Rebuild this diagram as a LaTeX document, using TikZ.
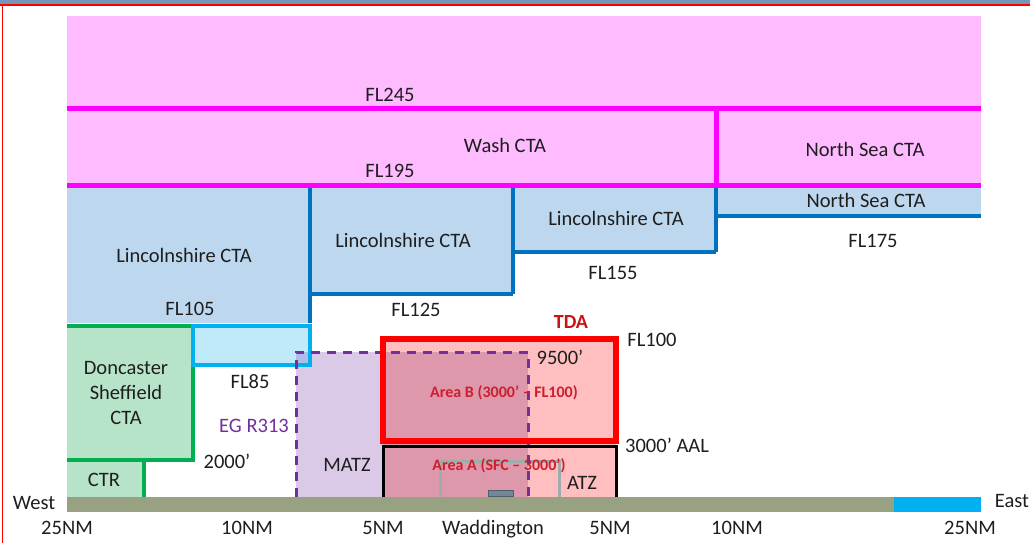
\documentclass[tikz,border=0pt]{standalone}
\usepackage{fontspec}
\setmainfont{Carlito}
\definecolor{pinkfill}{RGB}{255,187,255}
\definecolor{magline}{RGB}{255,0,255}
\definecolor{bluefill}{RGB}{189,215,238}
\definecolor{bluedark}{RGB}{0,112,192}
\definecolor{greenfill}{RGB}{183,228,200}
\definecolor{greenline}{RGB}{0,176,80}
\definecolor{cyanline}{RGB}{0,176,240}
\definecolor{cyanfill}{RGB}{192,234,250}
\definecolor{matzfill}{RGB}{218,202,232}
\definecolor{tdafill}{RGB}{255,190,192}
\definecolor{overlapfill}{RGB}{222,152,172}
\definecolor{cmoverlap}{RGB}{172,192,230}
\definecolor{groundcol}{RGB}{152,162,130}
\definecolor{purplecol}{RGB}{112,48,160}
\definecolor{txt}{RGB}{30,30,30}
\definecolor{tdared}{RGB}{200,20,20}
\definecolor{areared}{RGB}{205,30,45}
\definecolor{framebar}{RGB}{115,150,185}
\definecolor{atzgrey}{RGB}{160,172,172}
\definecolor{runwaycol}{RGB}{115,135,155}
\begin{document}
\begin{tikzpicture}[x=1pt,y=-1pt,
  lbl/.style={font=\fontsize{20.5}{24}\selectfont, text=txt, inner sep=0pt, text height=13.2pt, text depth=0pt},
  arealbl/.style={font=\bfseries\fontsize{16}{19}\selectfont, text=areared, inner sep=0pt, text height=10.3pt, text depth=0pt},
  magline/.style={draw=magline, line width=5pt},
  blueline/.style={draw=bluedark, line width=4pt},
  greenbd/.style={draw=greenline, line width=4.5pt},
  matzline/.style={draw=purplecol, line width=3pt, dash pattern=on 9pt off 7pt},
]
\useasboundingbox (0,0) rectangle (1030,543);
% frame
\fill[framebar] (0,0) rectangle (1030,4);
\draw[red, line width=1.5pt] (0,5) -- (1030,5);
\draw[red, line width=1.5pt] (2.5,5) -- (2.5,543);
% upper pink airspace
\fill[pinkfill] (67,16) rectangle (981,185);
% Lincolnshire / North Sea blue fills
\fill[bluefill] (67,185) rectangle (310,323);
\fill[bluefill] (310,185) rectangle (513,294);
\fill[bluefill] (513,185) rectangle (716,252);
\fill[bluefill] (716,185) rectangle (981,216);
% magenta lines
\draw[magline] (67,108.5) -- (981,108.5);
\draw[magline] (716,108.5) -- (716,185);
\draw[magline] (67,185) -- (981,185);
% blue outlines
\draw[blueline] (310,187.5) -- (310,323);
\draw[blueline] (310,294) -- (513,294);
\draw[blueline] (513,187.5) -- (513,294);
\draw[blueline] (513,252) -- (716,252);
\draw[blueline] (716,187.5) -- (716,252);
\draw[blueline] (716,216) -- (981,216);
% Doncaster Sheffield CTA / CTR
\fill[greenfill] (67,326) rectangle (193,460);
\fill[greenfill] (67,460) rectangle (144,497);
\draw[greenbd] (67,326) -- (193,326) -- (193,460) -- (67,460);
\draw[greenbd] (144,460) -- (144,497);
% FL85 box
\fill[cyanfill] (193,326) rectangle (310,365);
% MATZ and TDA fills
\fill[matzfill] (296,352) rectangle (528,497);
\fill[cmoverlap] (296,352) rectangle (310,365);
\draw[cyanline, line width=4pt] (193,326) rectangle (310,365);
\fill[tdafill] (383,339) rectangle (616,497);
\fill[overlapfill] (383,352) rectangle (528,497);
% ATZ and runway
\draw[atzgrey, line width=3pt] (440,497) -- (440,461) -- (559,461) -- (559,497);
\draw[fill=runwaycol, draw=runwaycol!70!black, line width=0.8pt] (488,490) rectangle (513,496);
% MATZ dashed outline
\draw[matzline] (296,497) -- (296,352) -- (528,352) -- (528,497);
% TDA borders
\draw[red, line width=6pt] (383,339) rectangle (616,441);
\draw[black, line width=3pt] (383,497) -- (383,446) -- (616,446) -- (616,497);
% ground
\fill[groundcol] (67,497) rectangle (894,512);
\fill[cyanline] (894,497) rectangle (981,512);
% labels
\node[lbl] (fl245) at (390,95) {FL245};
\node[lbl] (wash) at (505,146) {Wash CTA};
\node[lbl] (ns1) at (865,150) {North Sea CTA};
\node[lbl] (fl195) at (390,171) {FL195};
\node[lbl] (ns2) at (866,201) {North Sea CTA};
\node[lbl] (fl175) at (873,241) {FL175};
\node[lbl] (lin1) at (184,256) {Lincolnshire CTA};
\node[lbl] (lin2) at (403,241) {Lincolnshire CTA};
\node[lbl] (lin3) at (616,219) {Lincolnshire CTA};
\node[lbl] (fl155) at (613,273) {FL155};
\node[lbl] (fl105) at (190,309) {FL105};
\node[lbl] (fl125) at (416,310) {FL125};
\node[lbl, font=\bfseries\fontsize{20}{24}\selectfont, text=tdared] (tda) at (571,322) {TDA};
\node[lbl] (fl100) at (652,340) {FL100};
\node[lbl] (h9500) at (560,358) {9500’};
\node[arealbl] (areab) at (504,392) {Area B (3000’ – FL100)};
\node[lbl] (h3000) at (667,446) {3000’ AAL};
\node[arealbl] (areaa) at (499,465) {Area A (SFC – 3000’)};
\node[lbl] (atz) at (582,483) {ATZ};
\node[lbl] (matz) at (347,465) {MATZ};
\node[lbl] (don1) at (126,368) {Doncaster};
\node[lbl] (don2) at (126,393) {Sheffield};
\node[lbl] (don3) at (126,418) {CTA};
\node[lbl] (ctr) at (104,480) {CTR};
\node[lbl] (fl85) at (250,382) {FL85};
\node[lbl, text=purplecol] (r313) at (254,426) {EG R313};
\node[lbl] (h2000) at (227,462) {2000’};
\node[lbl] (west) at (34,503) {West};
\node[lbl] (east) at (1012,501) {East};
\node[lbl] (nm25w) at (67,528) {25NM};
\node[lbl] (nm10w) at (247,528) {10NM};
\node[lbl] (nm5w) at (383,528) {5NM};
\node[lbl] (wadd) at (493,528) {Waddington};
\node[lbl] (nm5e) at (610,528) {5NM};
\node[lbl] (nm10e) at (737,528) {10NM};
\node[lbl] (nm25e) at (970,528) {25NM};
\end{tikzpicture}
\end{document}
